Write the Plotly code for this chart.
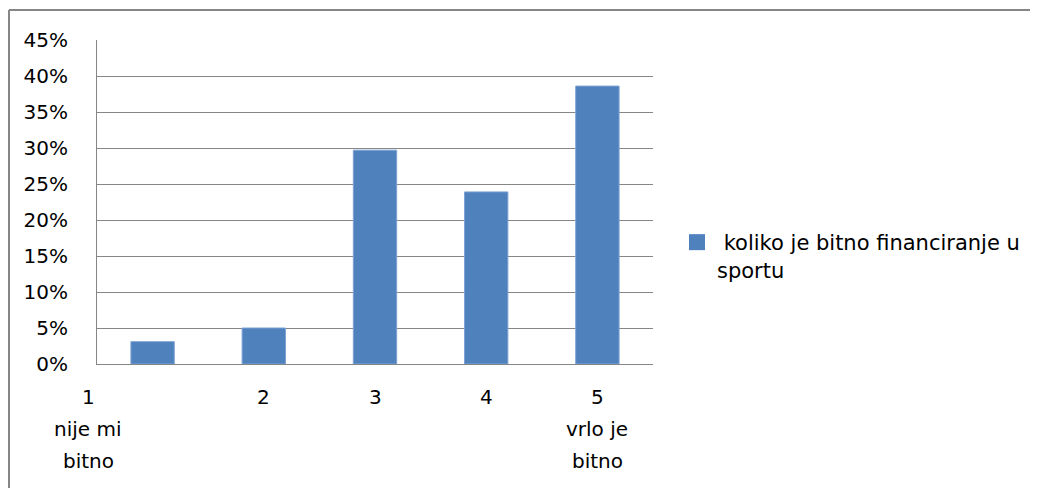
import plotly.graph_objects as go

categories = ["1", "2", "3", "4", "5"]
category_lines = [["1", "nije mi", "bitno"], ["2"], ["3"], ["4"], ["5", "vrlo je", "bitno"]]
values = [0.031, 0.050, 0.297, 0.239, 0.386]
series_name = " koliko je bitno financiranje u<br>sportu"
y_ticks = [0, 0.05, 0.10, 0.15, 0.20, 0.25, 0.30, 0.35, 0.40, 0.45]

FONT = "DejaVu Sans"
GRID = "#868686"
BAR = "#4F81BD"

# page body has an 8px margin; work in page pixels and subtract it
OFF = 8
W, H = 1038 - OFF, 488 - OFF
X0, X1, Y0, Y1 = 97, 653, 40, 364  # plot area in page pixels
L, R, T, B = X0 - OFF, 1038 - X1, Y0 - OFF, 488 - Y1
pw, ph = X1 - X0, Y1 - Y0

def px(xp):
    return (xp - X0) / pw

def py(yp):
    return (Y1 - yp) / ph

fig = go.Figure()
fig.add_trace(go.Bar(
    x=list(range(len(categories))), y=values, name=series_name,
    marker=dict(color=BAR, line=dict(color="#7DA2D4", width=1)),
    showlegend=False, legendgroup="s",
))
fig.add_trace(go.Scatter(
    x=[None], y=[None], mode="markers", name=series_name, legendgroup="s",
    marker=dict(symbol="square", size=17, color=BAR), showlegend=True,
))

annotations = []
xshifts = [-64.5, 0, 0, 0, 0]
for i, lines in enumerate(category_lines):
    for j, line in enumerate(lines):
        ypx = 397 + 32 * j
        annotations.append(dict(
            x=i, xref="x", y=py(ypx), yref="paper",
            text=line, showarrow=False, xanchor="center", yanchor="middle",
            xshift=xshifts[i], font=dict(family=FONT, size=20, color="#000000"),
        ))

shapes = [
    dict(type="line", xref="paper", yref="paper", x0=px(9), x1=px(1040), y0=py(10), y1=py(10),
         line=dict(color=GRID, width=2)),
    dict(type="line", xref="paper", yref="paper", x0=px(9), x1=px(9), y0=py(10), y1=py(490),
         line=dict(color=GRID, width=2)),
]

fig.update_layout(
    width=W, height=H,
    margin=dict(l=L, r=R, t=T, b=B, autoexpand=False),
    paper_bgcolor="white", plot_bgcolor="white",
    bargap=0.61,
    font=dict(family=FONT, size=20, color="#000000"),
    xaxis=dict(range=[-0.5, len(categories) - 0.5], showticklabels=False, showgrid=False,
               showline=True, linecolor=GRID, linewidth=1, ticks="", zeroline=False, fixedrange=True),
    yaxis=dict(range=[0, 0.45], tickvals=y_ticks, tickformat=".0%", showgrid=True,
               gridcolor=GRID, gridwidth=1, showline=True, linecolor=GRID, linewidth=1,
               ticks="", ticklabelstandoff=24, zeroline=False,
               tickfont=dict(family=FONT, size=20, color="#000000")),
    legend=dict(x=px(677), y=py(222), xanchor="left", yanchor="top", valign="top",
                font=dict(family=FONT, size=21, color="#000000"), bgcolor="rgba(0,0,0,0)"),
    annotations=annotations,
    shapes=shapes,
)

fig.write_html("out.html")
